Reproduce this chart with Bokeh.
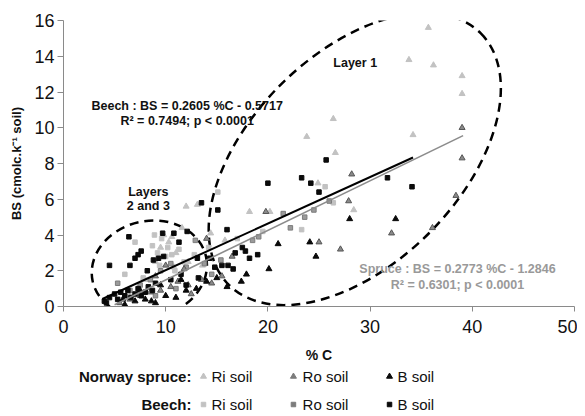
from bokeh.plotting import figure
from bokeh.models import Range1d, Label, FixedTicker
from bokeh.layouts import column
from bokeh.embed import file_html
from bokeh.resources import INLINE
import numpy as np

# ---------------- data ----------------
spruce_ri_x = [35.7, 33.8, 36.2, 39.0, 39.0, 26.4, 23.8, 34.2, 26.6, 24.9, 28.4, 12.0, 18.2, 13.1,
               20.2, 9.5, 10.3, 11.0, 9.0, 10.8, 12.2, 8.0, 13.6, 14.4, 11.6, 6.5, 15.8, 9.8, 10.6]
spruce_ri_y = [15.6, 13.8, 13.5, 12.9, 11.9, 10.5, 9.5, 9.6, 8.6, 6.9, 5.4, 5.6, 5.3, 5.7,
               5.3, 3.3, 3.6, 3.0, 2.5, 2.2, 2.5, 1.5, 2.3, 4.1, 4.4, 0.6, 3.7, 4.0, 3.9]

spruce_ro_x = [39.0, 39.0, 28.2, 27.9, 32.1, 25.0, 27.1, 36.1, 38.4, 19.8, 15.5, 5.5, 6.5, 7.5,
               8.5, 9.5, 10.5, 11.2, 12.2, 13.5, 12.5, 14.5, 16.5, 9.0, 11.8, 10.0, 14.0]
spruce_ro_y = [10.0, 8.3, 7.4, 5.9, 4.1, 3.6, 3.2, 4.4, 6.2, 5.3, 1.7, 0.2, 0.4, 0.6,
               0.8, 0.9, 1.1, 1.4, 1.2, 1.5, 0.7, 1.3, 2.8, 1.7, 2.1, 2.3, 3.8]

spruce_b_x = [28.0, 32.5, 24.1, 24.7, 21.0, 20.1, 17.9, 17.4, 6.0, 7.0, 8.0, 9.0, 10.0, 11.0,
              12.0, 13.0, 14.0, 7.5, 9.5, 11.5, 15.0, 16.0, 5.8, 8.6]
spruce_b_y = [4.9, 4.9, 3.6, 2.8, 3.5, 2.1, 1.8, 1.4, 0.1, 0.3, 0.4, 0.2, 0.6, 0.5,
              0.9, 1.0, 1.4, 0.9, 1.2, 1.5, 1.6, 1.1, 0.4, 0.3]

beech_ri_x = [15.1, 26.4, 23.3, 25.6, 7.0, 8.7, 9.2, 10.2, 11.3, 8.9, 9.6, 10.0, 10.6, 11.8,
              12.8, 6.0, 7.8, 14.2, 17.0, 19.5, 9.4, 10.9]
beech_ri_y = [6.4, 5.8, 4.3, 6.7, 3.6, 3.4, 3.0, 3.3, 3.2, 4.0, 3.8, 2.8, 2.9, 2.5,
              2.9, 1.8, 1.6, 3.3, 3.8, 4.2, 2.3, 2.0]

beech_ro_x = [22.2, 23.6, 21.5, 12.9, 15.4, 19.1, 18.5, 5.3, 8.5, 9.5, 10.5, 11.0, 12.0, 13.8,
              7.5, 6.5, 9.0, 14.5, 26.0, 24.5]
beech_ro_y = [4.4, 5.0, 5.2, 3.7, 2.6, 3.9, 3.7, 1.3, 1.5, 2.0, 2.4, 1.0, 2.2, 2.4,
              1.2, 0.9, 0.6, 1.8, 5.9, 5.4]

beech_b_x = [4.0, 4.5, 5.0, 5.3, 5.6, 6.0, 6.3, 6.6, 7.0, 7.3, 7.6, 8.0, 8.3, 8.7, 9.0,
             4.5, 6.5, 6.4, 7.0, 7.3, 7.6, 8.2, 8.8, 9.3, 9.8, 9.7, 10.8, 11.3, 12.1, 13.5,
             15.1, 20.0, 16.0, 17.5, 17.8, 16.8, 18.2, 16.1, 16.6, 14.8, 13.1, 14.3, 13.2,
             10.5, 11.5, 12.0, 23.3, 24.2, 25.0, 25.7, 31.7, 34.1, 15.5, 19.0, 4.2]
beech_b_y = [0.3, 0.5, 0.7, 0.4, 0.8, 0.6, 0.9, 0.5, 0.7, 1.0, 0.6, 0.8, 1.1, 0.9, 1.3,
             2.3, 2.3, 3.9, 2.7, 2.9, 3.1, 2.0, 2.6, 2.7, 2.8, 4.1, 4.1, 3.6, 4.2, 5.8,
             5.4, 6.9, 4.3, 3.3, 3.1, 3.0, 2.7, 2.3, 2.1, 2.2, 2.7, 2.7, 1.6,
             1.5, 1.8, 1.2, 7.2, 6.9, 6.4, 8.2, 7.2, 6.7, 2.3, 2.9, 0.2]

# regression lines
beech_slope, beech_icpt = 0.2605, -0.5717
spruce_slope, spruce_icpt = 0.2773, -1.2846
beech_xr = [3.8, 34.2]
spruce_xr = [5.0, 39.1]

x_ticks = [0, 10, 20, 30, 40, 50]
y_ticks = [0, 2, 4, 6, 8, 10, 12, 14, 16]

legend_groups = ["Norway spruce:", "Beech:"]
legend_names = ["Ri soil", "Ro soil", "B soil"]

LIGHT = "#c2c2c2"
MED = "#7c7c7c"
DARK = "#0a0a0a"
AXIS = "#8a8a8a"
FONT = "Liberation Sans"

p = figure(width=577, height=368, output_backend="svg", toolbar_location=None,
           x_range=Range1d(0, 50), y_range=Range1d(0, 16),
           min_border_left=63, min_border_right=3, min_border_top=20, min_border_bottom=62)
p.outline_line_color = None
p.grid.visible = False

for ax in (p.xaxis[0], p.yaxis[0]):
    ax.axis_line_color = AXIS
    ax.major_tick_line_color = AXIS
    ax.minor_tick_line_color = None
    ax.major_tick_in = 0
    ax.major_tick_out = 6
    ax.major_label_text_font = FONT
    ax.major_label_text_font_size = "18px"
    ax.major_label_text_color = "#111111"
    ax.axis_label_text_font = FONT
    ax.axis_label_text_font_style = "bold"
    ax.axis_label_text_color = "#111111"

p.xaxis.ticker = FixedTicker(ticks=x_ticks)
p.yaxis.ticker = FixedTicker(ticks=y_ticks)
p.xaxis.axis_label = "% C"
p.yaxis.axis_label = "BS (cmolc.k⁻¹ soil)"
p.xaxis.axis_label_text_font_size = "14px"
p.yaxis.axis_label_text_font_size = "13px"
p.xaxis.major_tick_out = 5
p.xaxis.major_label_standoff = 8
p.xaxis.axis_label_standoff = 11
p.yaxis.major_label_standoff = 3
p.yaxis.axis_label_standoff = 7

# ellipses (screen units)
p.ellipse(x=[28.5], y=[8.25], width=[356], height=[210], angle=[np.deg2rad(45)],
          width_units="screen", height_units="screen",
          fill_alpha=0, line_color="black", line_width=2.5, line_dash="9 6")
p.ellipse(x=[8.4], y=[2.1], width=[116], height=[96], angle=[np.deg2rad(12)],
          width_units="screen", height_units="screen",
          fill_alpha=0, line_color="black", line_width=2.5, line_dash="9 6")

# scatter series
p.scatter(spruce_ri_x, spruce_ri_y, marker="triangle", size=6, fill_color=LIGHT, line_color=LIGHT)
p.scatter(beech_ri_x, beech_ri_y, marker="square", size=4.5, fill_color=LIGHT, line_color=LIGHT)
p.scatter(beech_ro_x, beech_ro_y, marker="square", size=4.5, fill_color="#9a9a9a", line_color=MED)
p.scatter(spruce_ro_x, spruce_ro_y, marker="triangle", size=6, fill_color="#8a8a8a", line_color="#555555")
p.scatter(spruce_b_x, spruce_b_y, marker="triangle", size=6, fill_color=DARK, line_color=DARK)
p.scatter(beech_b_x, beech_b_y, marker="square", size=4.5, fill_color=DARK, line_color=DARK)

# regression lines
p.line(spruce_xr, [spruce_slope * v + spruce_icpt for v in spruce_xr], line_color="#8c8c8c", line_width=1.6)
p.line(beech_xr, [beech_slope * v + beech_icpt for v in beech_xr], line_color="black", line_width=2)

def lab(fig, x, y, text, size="12.5px", color="#111111", bold=True, align="center"):
    fig.add_layout(Label(x=x, y=y, text=text, text_font=FONT, text_font_size=size,
                         text_color=color, text_font_style="bold" if bold else "normal",
                         text_align=align, text_baseline="middle"))

lab(p, 12.1, 11.2, "Beech : BS = 0.2605 %C - 0.5717")
lab(p, 12.1, 10.35, "R² = 0.7494; p < 0.0001")
lab(p, 38.55, 2.07, "Spruce : BS = 0.2773 %C - 1.2846", color="#999999")
lab(p, 38.55, 1.23, "R² = 0.6301; p < 0.0001", color="#999999")
lab(p, 26.4, 13.6, "Layer 1", align="left")
lab(p, 8.3, 6.43, "Layers")
lab(p, 8.3, 5.65, "2 and 3")

# ---------------- legend panel (separate figure sharing the x scale) ----------------
lg = figure(width=577, height=46, output_backend="svg", toolbar_location=None,
            x_range=Range1d(0, 50), y_range=Range1d(0, 46),
            x_axis_location=None, y_axis_location=None,
            min_border_left=63, min_border_right=3, min_border_top=0, min_border_bottom=0)
lg.grid.visible = False
lg.outline_line_color = None

rows_y = [38, 10]
markers = ["triangle", "square"]
msizes = [6, 4.5]
cols = [LIGHT, MED, DARK]
mk_x = [13.7, 22.5, 31.9]
tx_x = [14.48, 23.39, 32.68]
for g, ry, mk, ms in zip(legend_groups, rows_y, markers, msizes):
    lab(lg, 12.52, ry, g, size="15px", align="right")
    lg.scatter(mk_x, [ry] * 3, marker=mk, size=ms, fill_color=cols, line_color=cols)
    for tx, nm in zip(tx_x, legend_names):
        lab(lg, tx, ry, nm, size="15px", bold=False, align="left")

layout = column(p, lg, spacing=0)
open("out.html", "w").write(file_html(layout, INLINE))
